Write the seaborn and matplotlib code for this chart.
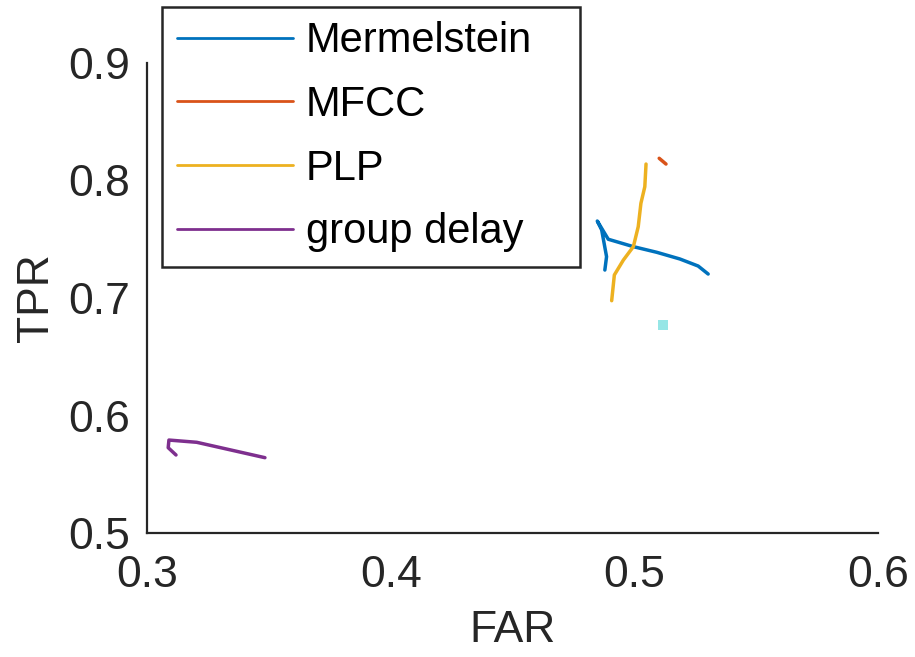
import numpy as np
import pandas as pd
import matplotlib
matplotlib.use("Agg")
import matplotlib.pyplot as plt
import seaborn as sns

# === Data ===
mermelstein_far = [0.4879, 0.4886, 0.4866, 0.4848, 0.4893, 0.4996, 0.5092, 0.5187, 0.5262, 0.5303]
mermelstein_tpr = [0.7238, 0.7352, 0.7579, 0.7655, 0.7500, 0.7437, 0.7389, 0.7332, 0.7272, 0.7204]

mfcc_far = [0.5102, 0.5130]
mfcc_tpr = [0.8189, 0.8140]

plp_far = [0.4907, 0.4913, 0.4918, 0.4955, 0.4996, 0.5016, 0.5027, 0.5043, 0.5048]
plp_tpr = [0.6977, 0.7096, 0.7196, 0.7323, 0.7437, 0.7607, 0.7806, 0.7947, 0.8140]

gd_far = [0.3119, 0.3087, 0.3090, 0.3204, 0.3484]
gd_tpr = [0.5664, 0.5726, 0.5791, 0.5772, 0.5641]

extra_far = [0.5119]
extra_tpr = [0.6770]

labels = ["Mermelstein", "MFCC", "PLP", "group delay"]
colors = ["#0072BD", "#D95319", "#EDB120", "#7E2F8E"]

x_ticks = [0.3, 0.4, 0.5, 0.6]
y_ticks = [0.5, 0.6, 0.7, 0.8, 0.9]

series = [(mermelstein_far, mermelstein_tpr), (mfcc_far, mfcc_tpr),
          (plp_far, plp_tpr), (gd_far, gd_tpr)]
frames = []
for name, (fx, fy) in zip(labels, series):
    part = pd.DataFrame({"FAR": fx, "TPR": fy, "feature": name})
    frames.append(part)
df = pd.concat(frames, ignore_index=True)

# === Plot ===
sns.set_style("white")
plt.rcParams["font.family"] = ["Liberation Sans", "DejaVu Sans"]
text_col = "#262626"

fig = plt.figure(figsize=(9.15, 6.57), dpi=100)
ax = fig.add_axes([147 / 915, 124 / 657, 731 / 915, 470 / 657])

sns.lineplot(data=df, x="FAR", y="TPR", hue="feature", hue_order=labels,
             palette=dict(zip(labels, colors)), sort=False, estimator=None,
             units="feature", linewidth=2.5, ax=ax, legend=False)
sns.scatterplot(x=extra_far, y=extra_tpr, marker="s", s=55, color="#96E6E6",
                edgecolor="none", ax=ax, legend=False)

ax.set_xlim(0.3, 0.6)
ax.set_ylim(0.5, 0.9)
ax.set_xticks(x_ticks)
ax.set_yticks(y_ticks)
ax.set_xticklabels([f"{v:.1f}" for v in x_ticks])
ax.set_yticklabels([f"{v:.1f}" for v in y_ticks])

sns.despine(ax=ax)
for side in ["left", "bottom"]:
    ax.spines[side].set_color(text_col)
    ax.spines[side].set_linewidth(1.6)
ax.tick_params(axis="both", direction="in", length=7, width=1.4, color=text_col,
               labelsize=32, labelcolor=text_col)
ax.tick_params(axis="x", pad=16)
ax.tick_params(axis="y", pad=12)

ax.set_xlabel("FAR", fontsize=32, color=text_col, labelpad=10)
ax.set_ylabel("TPR", fontsize=32, color=text_col, labelpad=8)

handles = [plt.Line2D([], [], color=c, linewidth=2) for c in colors]
leg = ax.legend(handles, labels, loc="lower left",
                bbox_to_anchor=(15 / 731, 266 / 470, 418 / 731, 0.8), mode="expand",
                fontsize=30, frameon=True, fancybox=False, framealpha=1,
                edgecolor=text_col, borderaxespad=0, borderpad=0.35,
                labelspacing=0.57, handlelength=2.8, handletextpad=0.3)
leg.get_frame().set_linewidth(1.8)
for t in leg.get_texts():
    t.set_color("black")

fig.savefig("out.png", dpi=100)
